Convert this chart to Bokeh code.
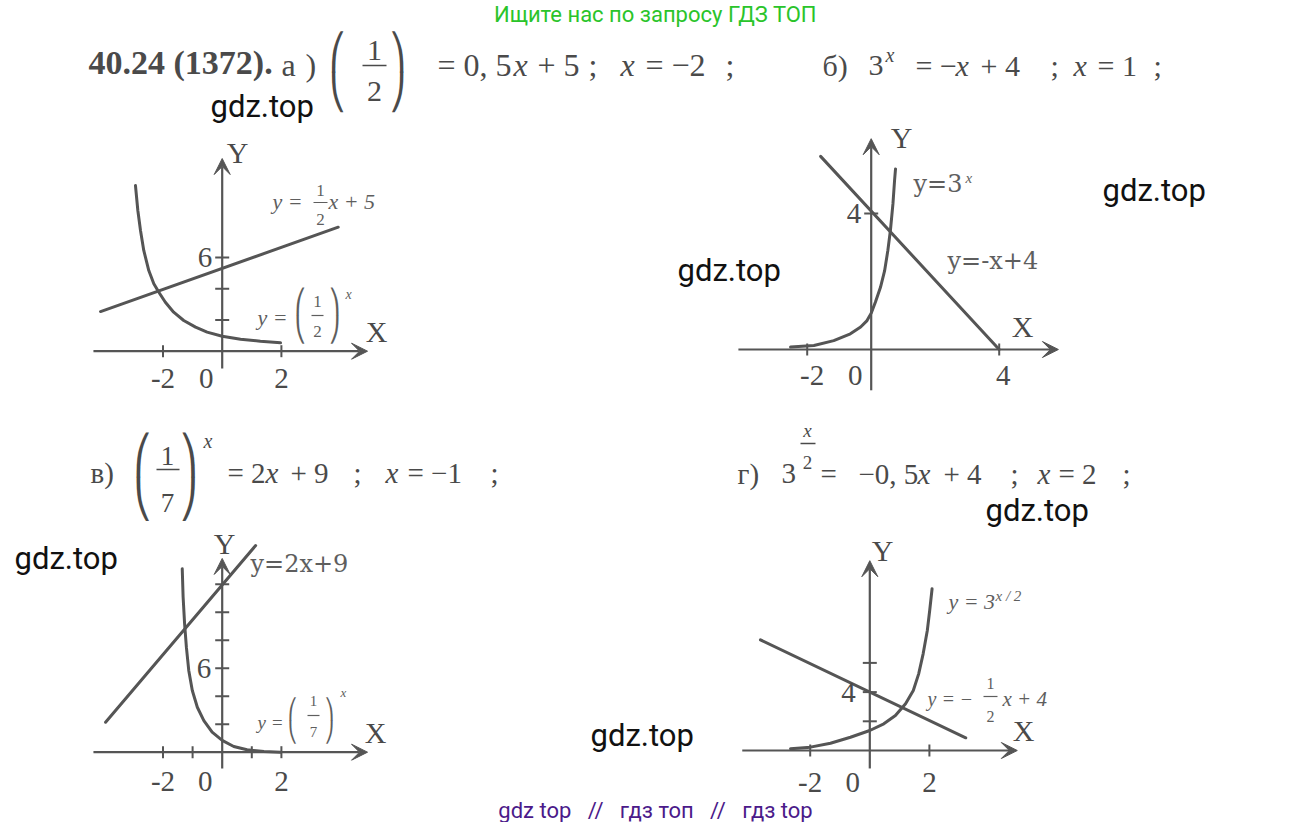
from bokeh.plotting import figure
from bokeh.models import Range1d, Label, Arrow, VeeHead
from bokeh.embed import file_html
from bokeh.resources import INLINE
import math

# ---------------- data ----------------
# panel а: y=(1/2)^x  and  y=0.5x+5
a_curve_x = [-2.93, -2.85, -2.76, -2.65, -2.48, -2.31, -2.14, -1.92, -1.64, -1.30, -0.90, -0.51, 0.0, 0.62, 1.29, 1.97]
a_curve_y = [10.62, 9.02, 7.74, 6.46, 5.17, 4.32, 3.78, 3.14, 2.50, 1.97, 1.54, 1.22, 0.96, 0.77, 0.64, 0.54]
a_line_x = [-4.11, 3.92]
a_line_y = [2.54, 7.95]
a_xticks = [-2, 2]
a_yticks = [2, 4, 6]
a_xlabels = ["-2", "0", "2"]
a_xlabel_pos = [-2, 0, 2]
a_ylabels = ["6"]
a_ylabel_pos = [6]

# panel б: y=3^x  and  y=-x+4
b_curve_x = [-2.52, -1.79, -1.17, -0.65, -0.33, -0.13, 0.0, 0.13, 0.29, 0.42, 0.52, 0.60, 0.68, 0.73, 0.76]
b_curve_y = [0.07, 0.12, 0.26, 0.46, 0.66, 0.85, 1.07, 1.39, 1.83, 2.32, 2.91, 3.50, 4.29, 4.97, 5.31]
b_line_x = [-1.58, 4.0]
b_line_y = [5.68, 0.0]
b_xticks = [-2, 4]
b_yticks = [4]
b_xlabels = ["-2", "0", "4"]
b_xlabel_pos = [-2, 0, 4]
b_ylabels = ["4"]
b_ylabel_pos = [4]

# panel в: y=(1/7)^x  and  y=2x+9
c_curve_x = [-1.35, -1.32, -1.27, -1.21, -1.13, -1.01, -0.84, -0.62, -0.34, 0.0, 0.39, 0.84, 1.41, 1.97]
c_curve_y = [13.1, 11.07, 9.17, 7.5, 5.84, 4.41, 3.21, 2.26, 1.43, 0.84, 0.41, 0.17, 0.05, 0.0]
c_line_x = [-3.94, 1.13]
c_line_y = [2.14, 14.76]
c_xticks = [-2, -1, 1, 2]
c_yticks = [2, 4, 6, 8, 10, 12]
c_xlabels = ["-2", "0", "2"]
c_xlabel_pos = [-2, 0, 2]
c_ylabels = ["6"]
c_ylabel_pos = [6]

# panel г: y=3^(x/2)  and  y=-0.5x+4
d_curve_x = [-2.66, -1.99, -1.32, -0.65, 0.0, 0.47, 0.86, 1.20, 1.46, 1.64, 1.79, 1.93, 2.01, 2.09]
d_curve_y = [0.12, 0.23, 0.50, 0.91, 1.37, 1.83, 2.40, 3.20, 4.11, 5.25, 6.62, 8.22, 9.59, 11.08]
d_line_x = [-3.67, 3.22]
d_line_y = [7.58, 0.87]
d_xticks = [-2, 2]
d_yticks = [2, 4, 6]
d_xlabels = ["-2", "0", "2"]
d_xlabel_pos = [-2, 0, 2]
d_ylabels = ["4"]
d_ylabel_pos = [4]

# ---------------- styles ----------------
SERIF = "Liberation Serif"
SERIF2 = "DejaVu Serif"
PAREN = "DejaVu Sans"
SANS = "Roboto"
LC = "#555555"
TC = "#4a4a4a"
TC2 = "#5e5e5e"

W, H = 1295, 822
p = figure(width=W, height=H, x_range=Range1d(0, W), y_range=Range1d(H, 0),
           output_backend="svg", toolbar_location=None, title=None,
           x_axis_location=None, y_axis_location=None, min_border=0,
           background_fill_color="white", border_fill_color="white")
p.outline_line_color = None
p.xgrid.visible = False
p.ygrid.visible = False


def T(x, y, text, size, style="normal", font=SERIF, color=TC, align="left", baseline="middle", **kw):
    p.add_layout(Label(x=x, y=y, text=text, text_font=font, text_font_size=f"{size}px",
                       text_font_style=style, text_color=color, text_align=align,
                       text_baseline=baseline, **kw))


def bar(x0, x1, y, color=TC, w=1.5):
    p.segment(x0=[x0], y0=[y], x1=[x1], y1=[y], line_color=color, line_width=w)


def parens(xl, xr, top, bottom, color=TC):
    """tall parentheses built from bracket pieces"""
    h = (bottom - top) / 2.0
    size = h / 1.16
    for (x, a, b) in [(xl, "\u239b", "\u239d"), (xr, "\u239e", "\u23a0")]:
        T(x, top + h / 2, a, round(size, 1), font=PAREN, color=color, align="center")
        T(x, bottom - h / 2, b, round(size, 1), font=PAREN, color=color, align="center")


# panel layouts: origin (px), px per unit in x and y, axis extents in units
panels = {
    "a": dict(ox=221.7, oy=350.7, ux=29.6, uy=15.6, ax=(-4.35, 4.91), ay=(-1.11, 12.35),
              cx=a_curve_x, cy=a_curve_y, lx=a_line_x, ly=a_line_y, xt=a_xticks, yt=a_yticks,
              xl=a_xlabels, xlp=a_xlabel_pos, yl=a_ylabels, ylp=a_ylabel_pos,
              xoff={0: -16}, yoff=-27, ylx=-10),
    "b": dict(ox=870.7, oy=349.0, ux=32.0, uy=34.0, ax=(-4.15, 5.85), ay=(-1.2, 6.2),
              cx=b_curve_x, cy=b_curve_y, lx=b_line_x, ly=b_line_y, xt=b_xticks, yt=b_yticks,
              xl=b_xlabels, xlp=b_xlabel_pos, yl=b_ylabels, ylp=b_ylabel_pos,
              xoff={-2: 5, 0: -16, 4: 4}, yoff=-26, ylx=-10),
    "c": dict(ox=221.7, oy=751.7, ux=29.6, uy=14.0, ax=(-4.35, 4.91), ay=(-1.16, 13.84),
              cx=c_curve_x, cy=c_curve_y, lx=c_line_x, ly=c_line_y, xt=c_xticks, yt=c_yticks,
              xl=c_xlabels, xlp=c_xlabel_pos, yl=c_ylabels, ylp=c_ylabel_pos,
              xoff={0: -17}, yoff=-29, ylx=-11),
    "d": dict(ox=869.3, oy=750.0, ux=29.8, uy=14.6, ax=(-4.28, 4.95), ay=(-1.23, 13.0),
              cx=d_curve_x, cy=d_curve_y, lx=d_line_x, ly=d_line_y, xt=d_xticks, yt=d_yticks,
              xl=d_xlabels, xlp=d_xlabel_pos, yl=d_ylabels, ylp=d_ylabel_pos,
              xoff={0: -17}, yoff=-32, ylx=-14),
}

for k, g in panels.items():
    xr, yr = k + "x", k + "y"
    p.extra_x_ranges[xr] = Range1d((0 - g["ox"]) / g["ux"], (W - g["ox"]) / g["ux"])
    p.extra_y_ranges[yr] = Range1d((g["oy"] - H) / g["uy"], (g["oy"] - 0) / g["uy"])
    rn = dict(x_range_name=xr, y_range_name=yr)
    for (xs, ys, xe, ye) in [(g["ax"][0], 0, g["ax"][1], 0), (0, g["ay"][0], 0, g["ay"][1])]:
        p.add_layout(Arrow(end=VeeHead(size=16, fill_color=LC, line_color=LC, line_width=1),
                           x_start=xs, y_start=ys, x_end=xe, y_end=ye,
                           line_color=LC, line_width=2.2, **rn))
    p.scatter(x=g["xt"], y=[0] * len(g["xt"]), marker="dash", size=12, angle=math.pi / 2,
              line_color=LC, line_width=2, **rn)
    p.scatter(x=[0] * len(g["yt"]), y=g["yt"], marker="dash", size=14,
              line_color=LC, line_width=2, **rn)
    p.line(g["cx"], g["cy"], line_color=LC, line_width=3, line_join="round", line_cap="round", **rn)
    p.line(g["lx"], g["ly"], line_color=LC, line_width=3, line_cap="round", **rn)
    for t, v in zip(g["xl"], g["xlp"]):
        p.add_layout(Label(x=v, y=0, text=t, x_offset=g["xoff"].get(v, 0), y_offset=g["yoff"],
                           text_font=SERIF, text_font_size="29px", text_color=TC,
                           text_align="center", text_baseline="middle", **rn))
    for t, v in zip(g["yl"], g["ylp"]):
        p.add_layout(Label(x=0, y=v, text=t, x_offset=g["ylx"], y_offset=0,
                           text_font=SERIF, text_font_size="29px", text_color=TC,
                           text_align="right", text_baseline="middle", **rn))

# axis names
for (x, y) in [(237, 152), (901, 137), (224, 543), (882, 550)]:
    T(x, y, "Y", 30, align="center")
for (x, y) in [(376, 331), (1022, 326), (375, 732), (1023, 730)]:
    T(x, y, "X", 30, align="center")

# ---------------- headers ----------------
# а)
T(88, 62, "40.24 (1372).", 34, "bold")
T(281, 64, "а", 32)
T(305, 64, ")", 32)
parens(337, 397, 31, 111)
T(374, 50, "1", 30, align="center")
bar(362, 386, 65)
T(374, 91, "2", 30, align="center")
T(437, 64, "= 0, 5", 32)
T(513, 64, "x", 32, "italic")
T(537, 64, "+ 5", 32)
T(588, 64, ";", 32)
T(620, 64, "x", 32, "italic")
T(645, 64, "= −2", 32)
T(725, 64, ";", 32)

# б)
T(822, 65, "б)", 30)
T(868, 65, "3", 30)
T(885, 54, "x", 20, "italic")
T(915, 65, "= −", 30)
T(955, 65, "x", 30, "italic")
T(980, 65, "+ 4", 30)
T(1050, 65, ";", 30)
T(1073, 65, "x", 30, "italic")
T(1097, 65, "= 1", 30)
T(1153, 65, ";", 30)

# в)
T(90, 472, "в)", 29)
parens(142, 188, 433, 520)
T(167, 455, "1", 27, align="center")
bar(156, 179, 469)
T(167, 502, "7", 27, align="center")
T(203, 440, "x", 20, "italic")
T(227, 472, "= 2", 29)
T(265, 472, "x", 29, "italic")
T(290, 472, "+ 9", 29)
T(353, 472, ";", 29)
T(385, 472, "x", 29, "italic")
T(407, 472, "= −1", 29)
T(490, 472, ";", 29)

# г)
T(737, 473, "г)", 29)
T(781, 473, "3", 29)
T(807, 430, "x", 19, "italic", align="center")
bar(800, 815, 443)
T(807, 462, "2", 19, align="center")
T(820, 473, "=", 29)
T(858, 473, "−0, 5", 29)
T(917, 473, "x", 29, "italic")
T(943, 473, "+ 4", 29)
T(1010, 473, ";", 29)
T(1037, 473, "x", 29, "italic")
T(1058, 473, "= 2", 29)
T(1122, 473, ";", 29)

# ---------------- curve labels ----------------
# а
T(272, 201, "y =", 22, "italic", color=TC2)
T(320, 190, "1", 17, align="center", color=TC2)
bar(313, 327, 202, TC2, 1.2)
T(320, 219, "2", 17, align="center", color=TC2)
T(328, 201, "x + 5", 22, "italic", color=TC2)
T(257, 317, "y =", 22, "italic", color=TC2)
parens(300, 334, 288, 343, TC2)
T(317, 301, "1", 17, align="center", color=TC2)
bar(311, 323, 315, TC2, 1.2)
T(317, 331, "2", 17, align="center", color=TC2)
T(345, 294, "x", 14, "italic", color=TC2)
# б
T(913, 183, "y=3", 24, font=SERIF2, color=TC2)
T(965, 177, "x", 15, "italic", color=TC2)
T(947, 260, "y=-x+4", 24, font=SERIF2, color=TC2)
# в
T(250, 563, "y=2x+9", 24, font=SERIF2, color=TC2)
T(257, 722, "y =", 19, "italic", color=TC2)
parens(292, 329, 697, 743, TC2)
T(313, 700, "1", 15, align="center", color=TC2)
bar(307, 319, 715, TC2, 1.2)
T(313, 731, "7", 15, align="center", color=TC2)
T(340, 692, "x", 13, "italic", color=TC2)
# г
T(948, 601, "y = 3", 22, "italic", color=TC2)
T(995, 595, "x / 2", 15, "italic", color=TC2)
T(927, 698, "y = −", 20, "italic", color=TC2)
T(990, 683, "1", 16, align="center", color=TC2)
bar(983, 997, 696, TC2, 1.2)
T(990, 716, "2", 16, align="center", color=TC2)
T(1002, 698, "x + 4", 21, "italic", color=TC2)

# ---------------- site texts ----------------
T(655, 14, "Ищите нас по запросу ГДЗ ТОП", 22, font=SANS, color="#2ac42a", align="center")
T(655, 810, "gdz top\u00a0\u00a0\u00a0//\u00a0\u00a0\u00a0гдз топ\u00a0\u00a0\u00a0//\u00a0\u00a0\u00a0гдз top", 22,
  font=SANS, color="#4b1a8a", align="center")
for (x, y) in [(210, 106), (1102, 190), (677, 270), (14, 558), (985, 510), (590, 735)]:
    T(x, y, "gdz.top", 31, font=SANS, color="#111111")

open("out.html", "w").write(file_html(p, INLINE))
